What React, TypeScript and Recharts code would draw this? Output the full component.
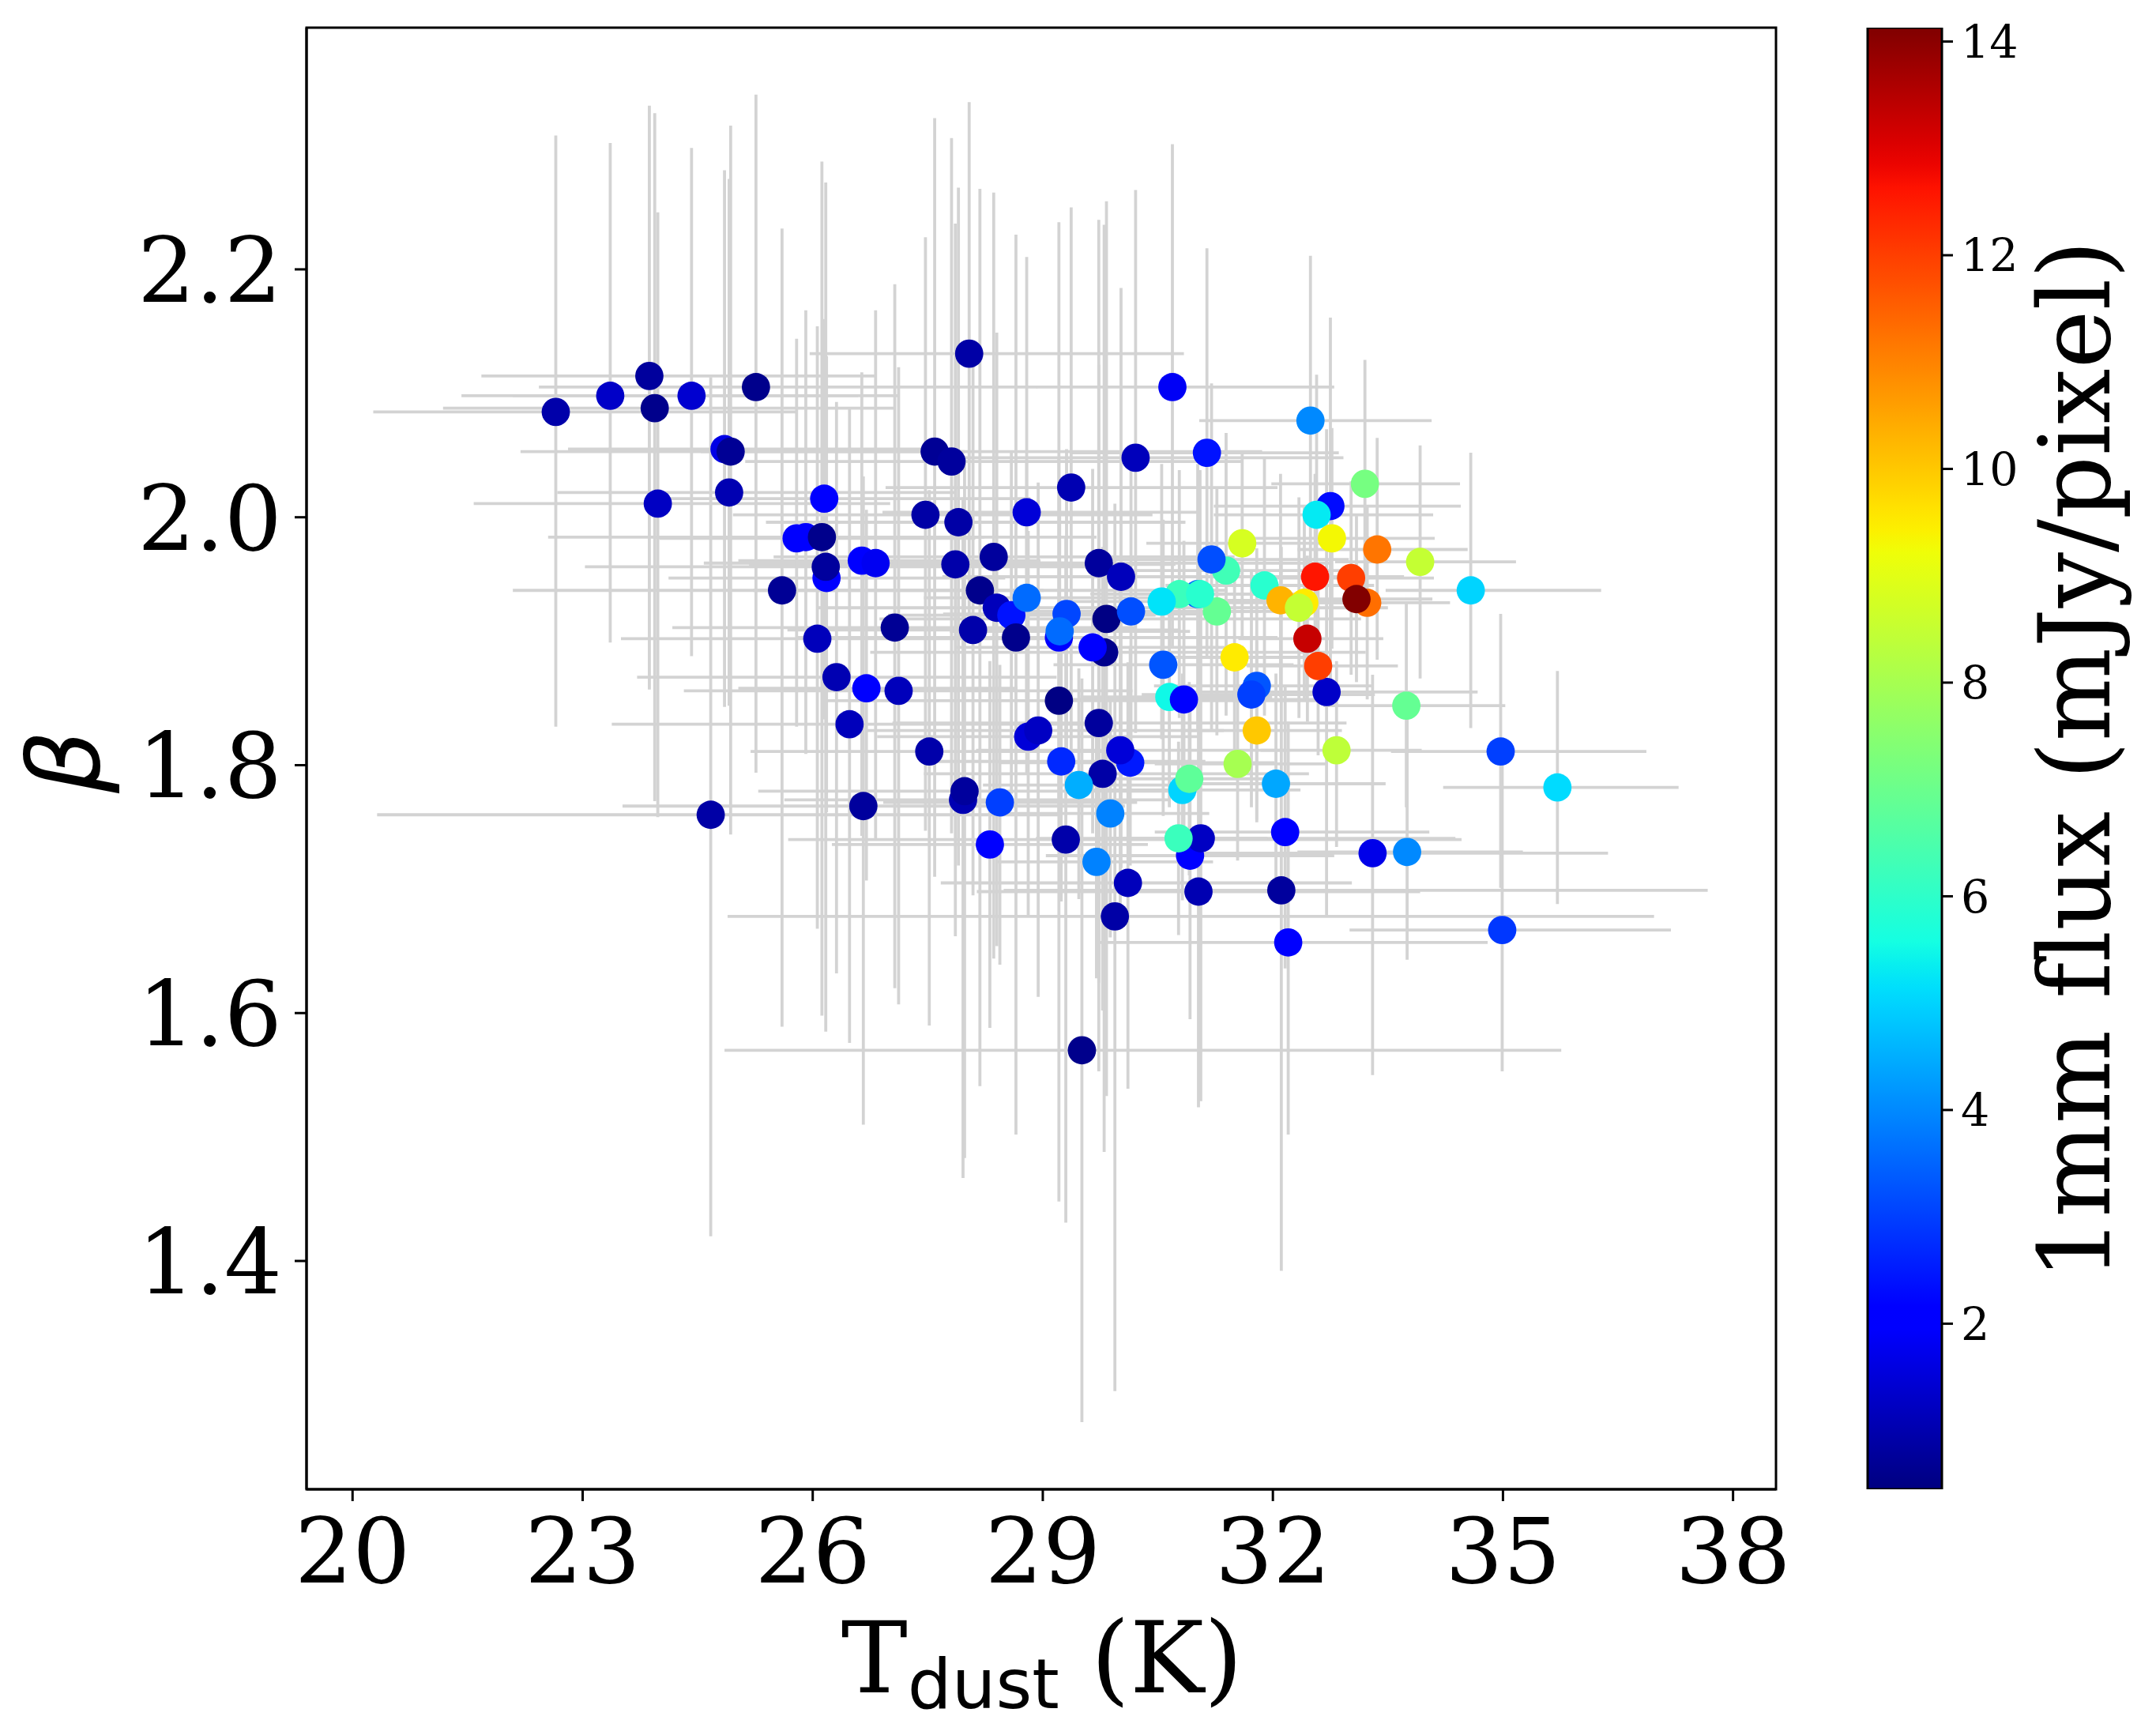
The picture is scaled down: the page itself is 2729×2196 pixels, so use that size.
import React from 'react'
import { Bar, BarChart, ErrorBar, Label, ReferenceArea, Scatter, ScatterChart, XAxis, YAxis } from 'recharts'

const tempK = [
  22.65, 23.36, 23.87, 23.94, 24.42, 25.26, 24.85, 24.93, 24.91, 23.98,
  26.15, 25.79, 25.91, 26.18, 26.12, 26.17, 25.6, 26.64, 26.82, 26.06,
  27.07, 26.31, 26.7, 27.12, 26.48, 24.67, 26.66, 28.04, 30.69, 32.49,
  27.59, 27.81, 30.21, 31.14, 29.37, 32.75, 33.2, 32.57, 28.79, 27.47,
  27.9, 31.6, 32.77, 33.36, 33.92, 27.86, 28.36, 29.73, 30.02, 31.39,
  31.2, 31.89, 32.55, 34.58, 28.18, 28.4, 28.59, 28.79, 29.31, 29.83,
  30.15, 31.02, 31.27, 30.78, 30.55, 31.05, 32.1, 32.41, 32.34, 33.23,
  33.02, 33.09, 28.09, 28.65, 29.21, 29.22, 29.8, 29.65, 30.57, 31.5,
  32.45, 32.7, 32.59, 31.79, 31.72, 30.65, 30.84, 29.21, 33.74, 31.79,
  29.73, 28.81, 28.94, 27.52, 29.24, 30.14, 30.01, 29.78, 32.83, 31.54,
  34.97, 29.47, 30.82, 30.91, 32.04, 27.96, 27.98, 28.44, 29.88, 32.16,
  29.3, 30.92, 31.06, 30.77, 28.31, 33.3, 33.75, 29.7, 30.11, 31.03,
  32.11, 29.94, 32.2, 34.99, 29.51, 35.71,
]

const beta = [
  2.085, 2.098, 2.114, 2.088, 2.098, 2.105, 2.055, 2.053, 2.02, 2.011,
  2.015, 1.983, 1.984, 1.951, 1.984, 1.96, 1.941, 1.965, 1.963, 1.902,
  1.911, 1.871, 1.862, 1.86, 1.833, 1.76, 1.767, 2.132, 2.105, 2.078,
  2.053, 2.045, 2.048, 2.052, 2.024, 2.009, 2.027, 2.002, 2.004, 2.002,
  1.996, 1.979, 1.983, 1.974, 1.964, 1.962, 1.968, 1.963, 1.952, 1.957,
  1.966, 1.945, 1.952, 1.941, 1.941, 1.927, 1.921, 1.935, 1.922, 1.918,
  1.924, 1.938, 1.924, 1.938, 1.932, 1.938, 1.933, 1.931, 1.927, 1.931,
  1.951, 1.934, 1.909, 1.903, 1.903, 1.908, 1.891, 1.895, 1.881, 1.887,
  1.902, 1.859, 1.88, 1.864, 1.857, 1.855, 1.853, 1.852, 1.848, 1.828,
  1.834, 1.823, 1.828, 1.811, 1.803, 1.802, 1.812, 1.793, 1.812, 1.801,
  1.811, 1.784, 1.78, 1.789, 1.785, 1.772, 1.779, 1.77, 1.761, 1.746,
  1.74, 1.727, 1.741, 1.741, 1.736, 1.729, 1.73, 1.722, 1.705, 1.698,
  1.699, 1.678, 1.657, 1.667, 1.57, 1.782,
]

const flux = [
  0.95, 1.3, 0.8, 0.6, 1.4, 0.6, 1.65, 0.7, 1.05, 1.25,
  1.95, 2.1, 2.1, 1.95, 0.6, 0.8, 0.7, 2.1, 1.8, 1.15,
  0.7, 1.05, 1.95, 1.15, 1.15, 0.9, 0.8, 0.9, 1.85, 4,
  0.7, 0.8, 1.15, 2.4, 1.05, 2.3, 7.2, 5.3, 1.5, 0.9,
  0.9, 8.8, 9.3, 11.2, 8.5, 0.95, 0.8, 0.8, 1.15, 6.3,
  3.2, 5.9, 12.6, 5, 0.6, 1.15, 2.4, 3.6, 3.1, 0.5,
  3.2, 3.5, 6.9, 6.2, 5.2, 5.9, 10.3, 9.5, 8.5, 11.3,
  12, 14.1, 0.95, 0.6, 2, 3.6, 0.6, 2, 3.3, 9.5,
  13.3, 1.3, 12, 3.3, 3, 5.5, 2, 0.5, 6.9, 10,
  0.8, 1.5, 1.25, 0.95, 2.7, 2.5, 1.5, 0.9, 8.4, 8,
  3, 4.5, 5, 6.8, 4.4, 1.05, 0.8, 3, 3.9, 2,
  0.95, 2, 1.25, 6.2, 2, 1.7, 4, 3.9, 1.15, 1.05,
  0.8, 0.9, 2, 2.9, 0.6, 5.1,
]

const tempErrLow = [
  2.38, 1.94, 2.19, 2.76, 2.33, 2.83, 2.04, 2.74, 2.24, 2.4,
  2.15, 1.79, 1.97, 2.06, 3.57, 3.14, 3.51, 1.61, 2.24, 2.56,
  2.9, 2.6, 1.67, 2.8, 3.1, 4.35, 3.14, 2.08, 1.77, 1.45,
  3.05, 2.69, 2.33, 1.79, 2.42, 1.52, 1.22, 1.34, 1.88, 2.51,
  2.51, 1.25, 1.16, 1.04, 1.11, 2.69, 2.87, 2.69, 2.33, 1.25,
  1.52, 1.29, 1.08, 1.11, 2.96, 2.33, 1.61, 1.34, 1.61, 2.96,
  1.52, 1.25, 1.08, 1.16, 1.34, 1.25, 0.99, 0.99, 1.08, 0.99,
  0.99, 0.9, 2.42, 2.87, 1.79, 1.43, 3.05, 1.79, 1.43, 0.99,
  0.9, 1.79, 0.93, 1.34, 1.43, 1.16, 1.7, 3.05, 1.08, 0.99,
  2.69, 1.97, 2.24, 2.33, 1.7, 1.7, 1.88, 2.33, 0.99, 1.08,
  1.43, 1.25, 1.16, 1.08, 1.16, 2.33, 2.69, 1.52, 1.34, 1.7,
  3.62, 1.88, 2.15, 1.08, 2.06, 2.33, 1.43, 1.31, 2.44, 2.89,
  3.62, 5.05, 2.47, 1.99, 4.66, 1.49,
]

const tempErrHigh = [
  3.14, 3.23, 2.94, 3.14, 2.69, 3.67, 2.87, 3.05, 2.96, 3.03,
  2.69, 2.33, 2.33, 2.33, 3.58, 3.41, 3.41, 2.33, 2.51, 3.05,
  3.14, 2.87, 1.97, 3.05, 3.23, 4.53, 3.41, 2.8, 2.11, 1.58,
  4.27, 3.8, 2.71, 1.72, 2.69, 1.7, 1.24, 1.52, 2.24, 2.96,
  2.96, 1.34, 1.34, 1.18, 1.25, 2.87, 3.14, 3.05, 2.69, 1.52,
  1.79, 1.43, 1.16, 1.7, 3.23, 2.69, 1.88, 1.61, 1.79, 3.32,
  1.7, 1.43, 1.25, 1.34, 1.52, 1.34, 1.11, 1.08, 1.16, 1.08,
  1.08, 0.99, 2.69, 3.41, 1.97, 1.7, 3.41, 1.97, 1.7, 1.16,
  0.99, 1.97, 1.04, 1.52, 1.61, 1.34, 1.88, 3.49, 1.29, 1.11,
  3.23, 2.24, 2.42, 2.69, 1.88, 1.88, 2.15, 2.69, 1.11, 1.16,
  1.9, 1.43, 1.54, 1.25, 1.43, 2.69, 3.05, 1.79, 1.29, 1.88,
  5.16, 1.88, 3.32, 1.16, 2.06, 3.07, 1.51, 1.52, 2.92, 2.89,
  5.56, 7.03, 2.6, 2.2, 6.25, 1.58,
]

const betaErrHigh = [
  0.223, 0.204, 0.218, 0.238, 0.2, 0.236, 0.225, 0.263, 0.253, 0.235,
  0.145, 0.161, 0.183, 0.179, 0.303, 0.31, 0.292, 0.152, 0.204, 0.252,
  0.277, 0.222, 0.144, 0.261, 0.255, 0.353, 0.266, 0.203, 0.196, 0.133,
  0.269, 0.261, 0.216, 0.165, 0.226, 0.152, 0.1, 0.113, 0.206, 0.224,
  0.27, 0.073, 0.089, 0.09, 0.094, 0.275, 0.294, 0.277, 0.233, 0.111,
  0.142, 0.102, 0.083, 0.111, 0.324, 0.222, 0.133, 0.111, 0.133, 0.337,
  0.128, 0.105, 0.1, 0.1, 0.111, 0.1, 0.102, 0.078, 0.089, 0.078,
  0.078, 0.067, 0.222, 0.325, 0.144, 0.122, 0.345, 0.144, 0.117, 0.078,
  0.067, 0.212, 0.072, 0.111, 0.1, 0.089, 0.128, 0.386, 0.083, 0.072,
  0.289, 0.166, 0.2, 0.211, 0.117, 0.094, 0.139, 0.183, 0.072, 0.078,
  0.111, 0.094, 0.094, 0.078, 0.089, 0.244, 0.266, 0.111, 0.094, 0.117,
  0.244, 0.133, 0.211, 0.078, 0.148, 0.144, 0.118, 0.1, 0.178, 0.2,
  0.277, 0.333, 0.178, 0.133, 0.3, 0.094,
]

const betaErrLow = [
  0.254, 0.199, 0.253, 0.317, 0.21, 0.311, 0.208, 0.309, 0.172, 0.253,
  0.178, 0.152, 0.175, 0.189, 0.386, 0.375, 0.352, 0.222, 0.222, 0.234,
  0.291, 0.239, 0.155, 0.253, 0.257, 0.34, 0.257, 0.233, 0.211, 0.139,
  0.343, 0.3, 0.222, 0.166, 0.233, 0.155, 0.1, 0.117, 0.211, 0.255,
  0.277, 0.078, 0.089, 0.089, 0.094, 0.3, 0.324, 0.339, 0.235, 0.117,
  0.139, 0.105, 0.083, 0.111, 0.4, 0.273, 0.144, 0.117, 0.133, 0.385,
  0.133, 0.111, 0.1, 0.1, 0.111, 0.1, 0.078, 0.078, 0.089, 0.078,
  0.078, 0.067, 0.214, 0.401, 0.144, 0.128, 0.403, 0.15, 0.122, 0.078,
  0.067, 0.18, 0.072, 0.11, 0.091, 0.089, 0.133, 0.404, 0.082, 0.072,
  0.281, 0.144, 0.215, 0.221, 0.113, 0.083, 0.139, 0.191, 0.078, 0.078,
  0.11, 0.092, 0.089, 0.078, 0.083, 0.305, 0.296, 0.131, 0.1, 0.11,
  0.309, 0.132, 0.212, 0.078, 0.148, 0.179, 0.087, 0.094, 0.166, 0.174,
  0.307, 0.383, 0.155, 0.114, 0.3, 0.094,
]

const xTicks = [20, 23, 26, 29, 32, 35, 38]
const yTicks = [1.4, 1.6, 1.8, 2.0, 2.2]
const fluxTicks = [2, 4, 6, 8, 10, 12, 14]
const xMin = 19.4
const xMax = 38.56
const yMin = 1.2158
const yMax = 2.395
const fluxMin = 0.45
const fluxMax = 14.13

const points = tempK.map((t, i) => ({
  t,
  beta: beta[i],
  flux: flux[i],
  tErr: [tempErrLow[i], tempErrHigh[i]],
  betaErr: [betaErrLow[i], betaErrHigh[i]],
}))

const W = 2729
const H = 2196
const FONT = '"DejaVu Serif", serif'
const MATH_FONT = '"DejaVu Sans", sans-serif'
const GREY = '#d3d3d3'

// matplotlib's jet, as piecewise-linear channels
const interp = (p: number, knots: number[][]) => {
  for (let i = 1; i < knots.length; i++) {
    if (p <= knots[i][0]) {
      const [x0, y0] = knots[i - 1]
      const [x1, y1] = knots[i]
      return y0 + ((y1 - y0) * (p - x0)) / (x1 - x0)
    }
  }
  return knots[knots.length - 1][1]
}
const jet = (p: number) => {
  const r = interp(p, [[0, 0], [0.35, 0], [0.66, 1], [0.89, 1], [1, 0.5]])
  const g = interp(p, [[0, 0], [0.125, 0], [0.375, 1], [0.64, 1], [0.91, 0], [1, 0]])
  const b = interp(p, [[0, 0.5], [0.11, 1], [0.34, 1], [0.65, 0], [1, 0]])
  return `rgb(${Math.round(r * 255)},${Math.round(g * 255)},${Math.round(b * 255)})`
}
const fluxColor = (f: number) => jet(Math.min(1, Math.max(0, (f - fluxMin) / (fluxMax - fluxMin))))
const gradientStops = Array.from({ length: 65 }, (_, i) => i / 64)

const axisStroke = { stroke: '#000', strokeWidth: 3 }

const FluxDot = (props: any) => (
  <circle cx={props.cx} cy={props.cy} r={17.9} fill={fluxColor(props.payload.flux)} />
)

export default function App() {
  return (
    <div style={{ position: 'absolute', left: 0, top: 0, width: W, height: H, background: '#fff' }}>
      <div style={{ position: 'absolute', left: 0, top: 0 }}>
        <ScatterChart width={W} height={H} margin={{ top: 35, right: 481, bottom: 0, left: 0 }}>
          <XAxis
            type="number"
            dataKey="t"
            domain={[xMin, xMax]}
            ticks={xTicks}
            allowDataOverflow
            interval={0}
            height={311}
            axisLine={axisStroke}
            tickLine={axisStroke}
            tickSize={15}
            tickMargin={21}
            tick={{ fontFamily: FONT, fontSize: 115, fill: '#000' }}
          >
            <Label
              content={() => (
                <text x={1319} y={2142} textAnchor="middle" fontFamily={FONT} fontSize={126} fill="#000">
                  T<tspan fontFamily={MATH_FONT} fontSize={88} dy={20}>dust</tspan>
                  <tspan dy={-20}> (K)</tspan>
                </text>
              )}
            />
          </XAxis>
          <YAxis
            type="number"
            dataKey="beta"
            domain={[yMin, yMax]}
            ticks={yTicks}
            allowDataOverflow
            interval={0}
            width={388}
            axisLine={axisStroke}
            tickLine={axisStroke}
            tickSize={15}
            tickMargin={16}
            tickFormatter={(v: number) => v.toFixed(1)}
            tick={{ fontFamily: FONT, fontSize: 115, fill: '#000' }}
          >
            <Label
              content={() => (
                <text x={125} y={964} transform="rotate(-90 125 964)" textAnchor="middle" fontFamily={MATH_FONT} fontStyle="italic" fontSize={125} fill="#000">
                  β
                </text>
              )}
            />
          </YAxis>
          <ReferenceArea x1={xMin} x2={xMax} y1={yMin} y2={yMax} fill="none" stroke="#000" strokeWidth={3} />
          {/* bars in their own series so that every one sits under every point */}
          <Scatter data={points} fill="none" isAnimationActive={false}>
            <ErrorBar dataKey="tErr" direction="x" width={0} stroke={GREY} strokeWidth={3.8} isAnimationActive={false} />
            <ErrorBar dataKey="betaErr" direction="y" width={0} stroke={GREY} strokeWidth={3.8} isAnimationActive={false} />
          </Scatter>
          <Scatter data={points} shape={FluxDot} isAnimationActive={false} />
        </ScatterChart>
      </div>
      <div style={{ position: 'absolute', left: 0, top: 0, width: W, height: H, pointerEvents: 'none' }}>
        <BarChart
          width={W}
          height={H}
          data={[{ name: 'flux', range: [fluxMin, fluxMax] }]}
          margin={{ top: 35, right: 0, bottom: 311, left: 2364 }}
          barCategoryGap={0}
        >
          <defs>
            <linearGradient id="jetBar" x1="0" y1="1" x2="0" y2="0">
              {gradientStops.map((s) => (
                <stop key={s} offset={s} stopColor={jet(s)} />
              ))}
            </linearGradient>
          </defs>
          <XAxis dataKey="name" hide />
          <YAxis
            orientation="right"
            type="number"
            domain={[fluxMin, fluxMax]}
            ticks={fluxTicks}
            allowDataOverflow
            interval={0}
            width={271}
            axisLine={false}
            tickLine={axisStroke}
            tickSize={14}
            tickMargin={10}
            tick={{ fontFamily: FONT, fontSize: 57, fill: '#000' }}
          >
            <Label
              content={() => (
                <text
                  x={2670}
                  y={962}
                  transform="rotate(-90 2670 962)"
                  textAnchor="middle"
                  fontFamily={FONT}
                  fontSize={125}
                  fill="#000"
                  style={{ fontVariantLigatures: 'none' }}
                >
                  1mm flux (mJy/pixel)
                </text>
              )}
            />
          </YAxis>
          <Bar dataKey="range" fill="url(#jetBar)" stroke="#000" strokeWidth={3} isAnimationActive={false} />
        </BarChart>
      </div>
    </div>
  )
}
